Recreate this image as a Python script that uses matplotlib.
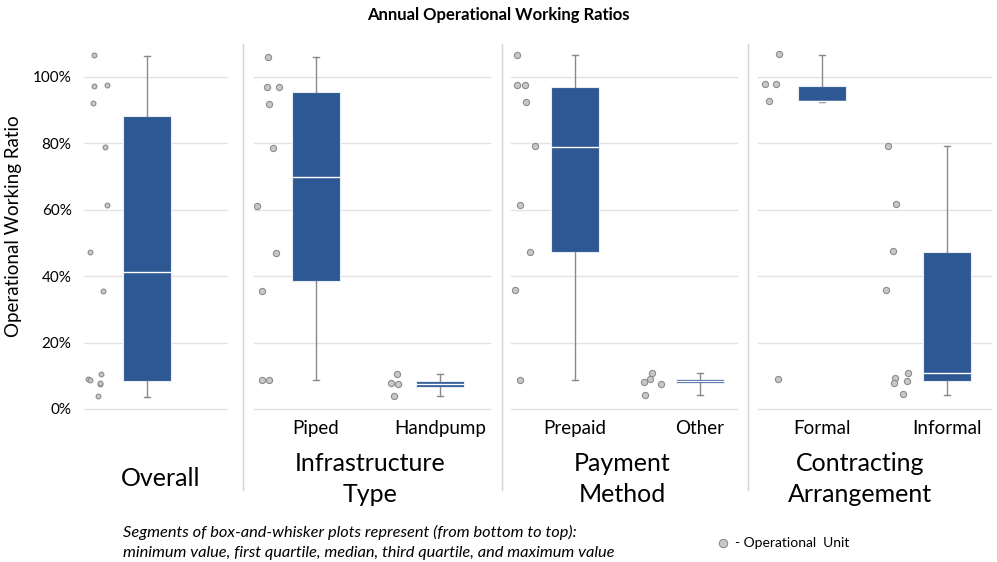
import matplotlib
matplotlib.use("Agg")
import matplotlib.pyplot as plt
from matplotlib.lines import Line2D

plt.rcParams["font.family"] = ["Lato", "DejaVu Sans"]

# box stats (percent): min, q1, median, q3, max
box_labels = ["Overall", "Piped", "Handpump", "Prepaid", "Other", "Formal", "Informal"]
box_min = [3.7, 8.6, 3.9, 8.8, 4.2, 92.4, 4.3]
box_q1 = [8.5, 38.6, 6.6, 47.3, 7.9, 92.6, 8.3]
box_med = [41.1, 69.9, 7.5, 78.8, 8.4, 92.6, 10.7]
box_q3 = [88.2, 95.5, 8.4, 96.8, 8.9, 97.2, 47.1]
box_max = [106.2, 106.0, 10.5, 106.4, 10.7, 106.6, 79.2]

# operational units (percent) and their horizontal jitter left of the box (px)
overall_vals = [106.4, 97.1, 97.4, 92.2, 78.8, 61.4, 47.2, 35.6, 8.9, 8.8, 10.5, 7.6, 7.8, 4.0]
overall_jit = [-53, -53, -40, -54, -42, -40, -57, -44, -59, -57, -46, -47, -47, -49]
piped_vals = [106.0, 97.0, 97.0, 91.8, 78.6, 61.2, 46.9, 35.6, 8.7, 8.8]
piped_jit = [-48, -49, -37, -47, -43, -59, -40, -54, -54, -47]
handpump_vals = [10.5, 7.8, 7.5, 3.9]
handpump_jit = [-43, -49, -42, -46]
prepaid_vals = [106.4, 97.4, 97.4, 92.3, 79.1, 61.5, 47.3, 35.7, 8.8]
prepaid_jit = [-58, -58, -50, -49, -40, -55, -45, -60, -55]
other_vals = [10.7, 9.0, 8.1, 7.5, 4.2]
other_jit = [-48, -50, -56, -39, -55]
formal_vals = [106.7, 97.7, 97.7, 92.6, 9.0]
formal_jit = [-43, -57, -46, -53, -44]
informal_vals = [79.3, 61.7, 47.5, 35.9, 10.9, 9.3, 7.7, 8.3, 4.4]
informal_jit = [-59, -51, -54, -61, -39, -52, -53, -40, -44]

point_vals = [overall_vals, piped_vals, handpump_vals, prepaid_vals,
              other_vals, formal_vals, informal_vals]
point_jit = [overall_jit, piped_jit, handpump_jit, prepaid_jit,
             other_jit, formal_jit, informal_jit]

group_titles = ["Overall", "Infrastructure\nType", "Payment\nMethod", "Contracting\nArrangement"]
y_ticks = [0, 20, 40, 60, 80, 100]

W, H = 997, 562
BLUE = "#2E5894"
GREY = "#8a8a8a"
UNIT = 125.0  # px per category step

# panel layout in pixels: left, right, box centres, which boxes
panels = [
    (84, 227, [146.7], [0]),
    (254, 490, [316, 440], [1, 2]),
    (511, 737, [574.5, 700], [3, 4]),
    (758, 991, [821.7, 947], [5, 6]),
]
y_top, y_bot = 43.5, 409

fig = plt.figure(figsize=(W / 100, H / 100), dpi=100)

for pi, (left, right, centres, idxs) in enumerate(panels):
    ax = fig.add_axes([left / W, 1 - y_bot / H, (right - left) / W, (y_bot - y_top) / H])
    c0 = centres[0]
    ax.set_xlim((left - c0) / UNIT, (right - c0) / UNIT)
    ax.set_ylim(0, 110)
    pos = [(c - c0) / UNIT for c in centres]

    for t in y_ticks:
        ax.axhline(t, color="#e3e3e3", lw=1, zorder=0, clip_on=False)

    stats = []
    for i in idxs:
        stats.append(dict(whislo=box_min[i], q1=box_q1[i], med=box_med[i],
                          q3=box_q3[i], whishi=box_max[i], label=box_labels[i]))
    ax.bxp(stats, positions=pos, widths=48 / UNIT, showfliers=False,
           patch_artist=True, capwidths=6 / UNIT,
           boxprops=dict(facecolor=BLUE, edgecolor="#e8ecf4", linewidth=0.8),
           medianprops=dict(color="white", linewidth=1),
           whiskerprops=dict(color=GREY, linewidth=1),
           capprops=dict(color=GREY, linewidth=1))

    for p, i in zip(pos, idxs):
        xs = [p + j / UNIT for j in point_jit[i]]
        size = 12 if pi == 0 else 20
        ax.scatter(xs, point_vals[i], s=size, facecolor="#c8c8c8",
                   edgecolor="#8c8c8c", linewidth=0.8, zorder=3)

    for s in ax.spines.values():
        s.set_visible(False)
    ax.tick_params(length=0)
    if pi == 0:
        ax.set_xticks([])
        ax.set_yticks(y_ticks)
        ax.set_yticklabels([f"{t}%" for t in y_ticks], fontsize=11)
        ax.tick_params(axis="y", pad=9)
        ax.set_ylabel("Operational Working Ratio", fontsize=13.5, labelpad=8)
    else:
        ax.set_yticks([])
        ax.set_xticks(pos)
        ax.set_xticklabels([box_labels[i] for i in idxs], fontsize=13.5)
        ax.tick_params(axis="x", pad=8)

# group titles under the panels
title_x = [161, 370, 622, 860]
for tx, gt in zip(title_x, group_titles):
    fig.text(tx / W, 1 - 479 / H, gt, ha="center", va="center",
             fontsize=18, linespacing=1.38)

# separators between panels
for sx in [243, 502, 748]:
    fig.add_artist(Line2D([sx / W, sx / W], [1 - 44 / H, 1 - 490 / H],
                          color="#d4d4d4", lw=1))

fig.text(498 / W, 1 - 15 / H, "Annual Operational Working Ratios",
         ha="center", va="center", fontsize=12, fontweight="bold")

fig.text(123 / W, 1 - 542 / H,
         "Segments of box-and-whisker plots represent (from bottom to top):\n"
         "minimum value, first quartile, median, third quartile, and maximum value",
         ha="left", va="center", fontsize=11.8, style="italic", linespacing=1.55)

fig.add_artist(Line2D([723 / W], [1 - 543 / H], marker="o", markersize=6,
                      markerfacecolor="#c8c8c8", markeredgecolor="#8c8c8c",
                      markeredgewidth=0.8, linestyle="none"))
fig.text(735 / W, 1 - 543 / H, "- Operational  Unit", ha="left", va="center", fontsize=10)

fig.savefig("out.png", dpi=100)
